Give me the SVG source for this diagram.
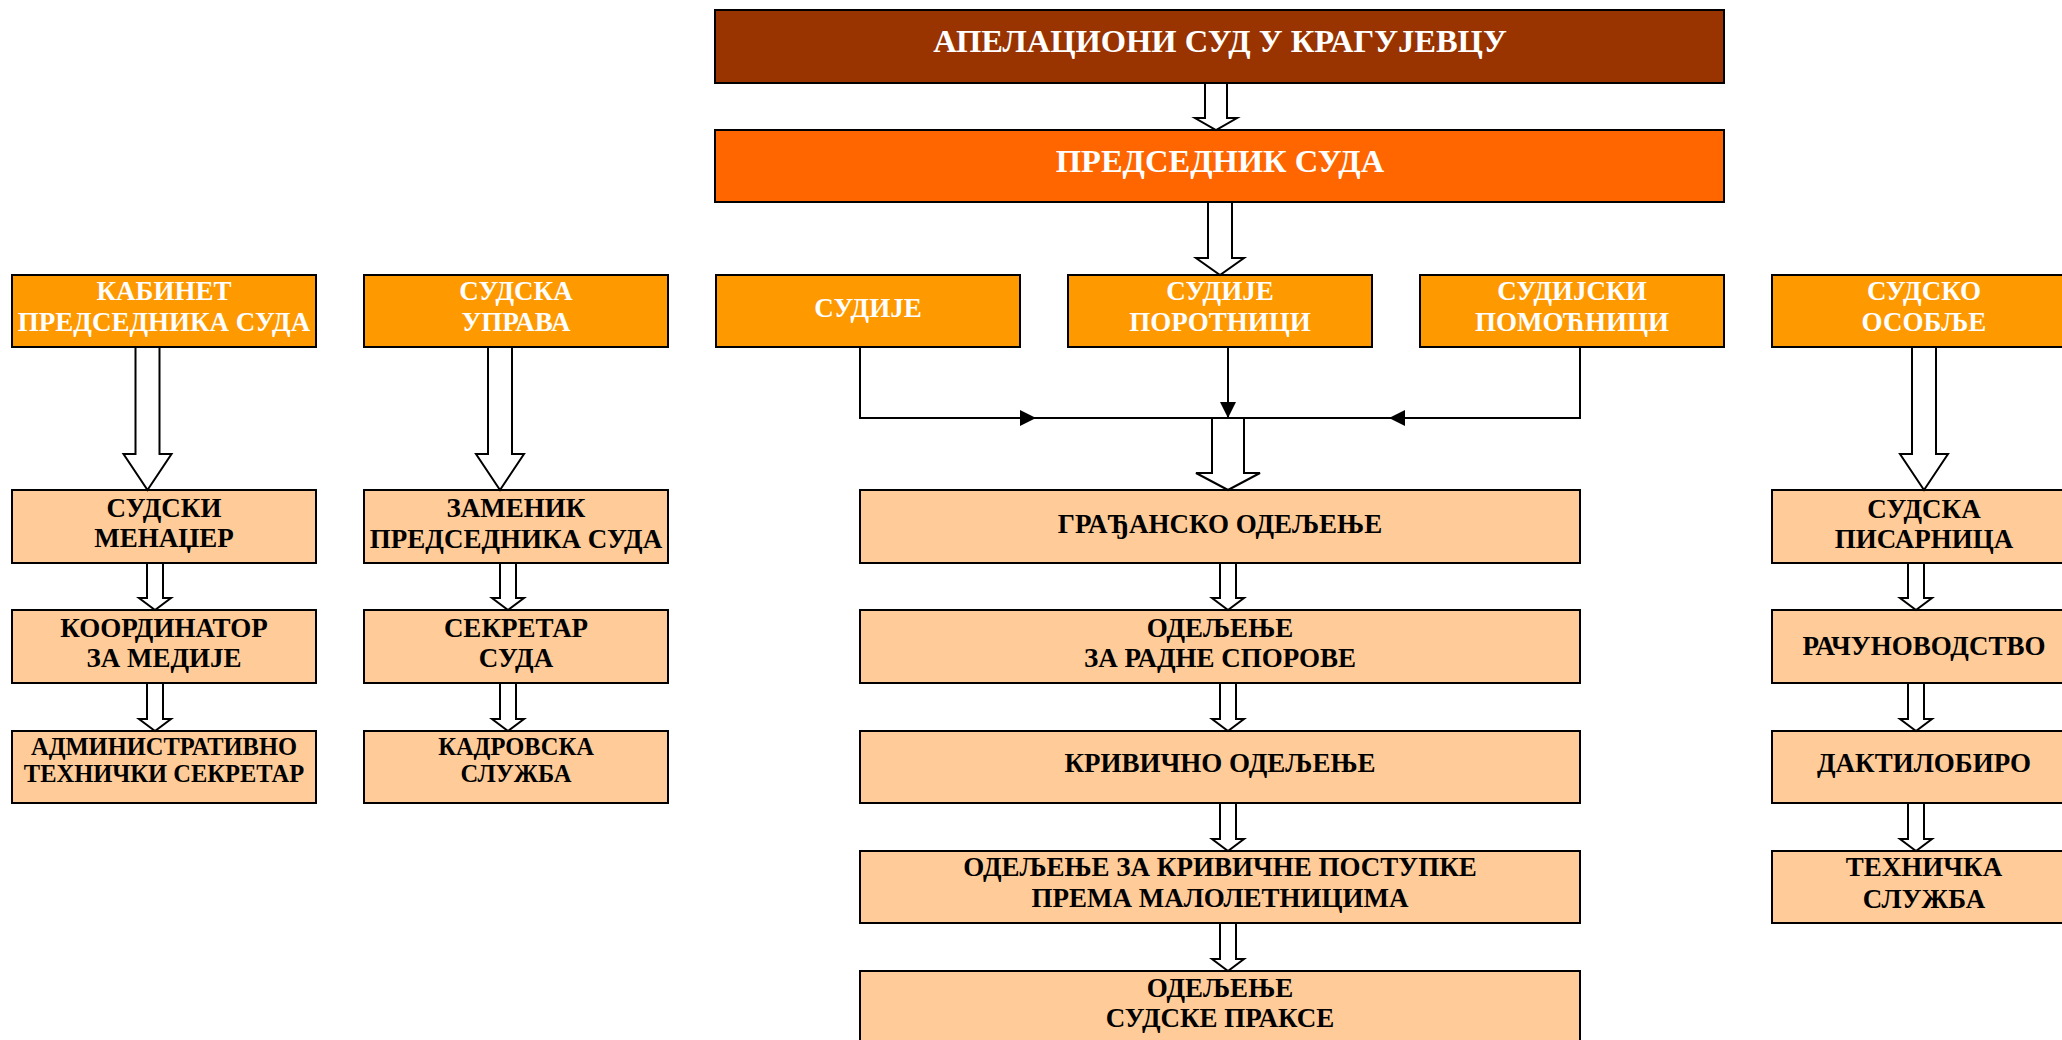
<svg xmlns="http://www.w3.org/2000/svg" width="2062" height="1040" viewBox="0 0 2062 1040">
<defs>
<style>
.box{stroke:#000;stroke-width:2}
.c0{fill:#993300}.c1{fill:#FF6600}.c2{fill:#FF9900}.c3{fill:#FFCC99}
text{font-family:"Liberation Serif","Times New Roman",serif;font-weight:bold;text-anchor:middle}
.w{fill:#fff;font-size:27px}.t{fill:#fff;font-size:32.5px}
.d{fill:#000;font-size:27px}.s{fill:#000;font-size:24.5px}
.blk{fill:#fff;stroke:#000;stroke-width:2;stroke-linejoin:miter}
.ln{fill:none;stroke:#000;stroke-width:2}
</style>
<marker id="tri" viewBox="0 0 10 10" refX="10" refY="5" markerWidth="16" markerHeight="16" markerUnits="userSpaceOnUse" orient="auto">
<path d="M0 0L10 5L0 10Z" fill="#000"/>
</marker>
</defs>
<rect width="2062" height="1040" fill="#fff"/>

<g id="apelacioni"><rect class="box c0" x="715" y="10" width="1009" height="73"/><text class="t" x="1220" y="52">АПЕЛАЦИОНИ СУД У КРАГУЈЕВЦУ</text></g>
<g id="predsednik"><rect class="box c1" x="715" y="130" width="1009" height="72"/><text class="t" x="1220" y="172">ПРЕДСЕДНИК СУДА</text></g>

<g id="kabinet"><rect class="box c2" x="12" y="275" width="304" height="72"/><text class="w" x="164" y="300">КАБИНЕТ</text><text class="w" x="164" y="331">ПРЕДСЕДНИКА СУДА</text></g>
<g id="uprava"><rect class="box c2" x="364" y="275" width="304" height="72"/><text class="w" x="516" y="300">СУДСКА</text><text class="w" x="516" y="331">УПРАВА</text></g>
<g id="sudije"><rect class="box c2" x="716" y="275" width="304" height="72"/><text class="w" x="868" y="317">СУДИЈЕ</text></g>
<g id="porotnici"><rect class="box c2" x="1068" y="275" width="304" height="72"/><text class="w" x="1220" y="300">СУДИЈЕ</text><text class="w" x="1220" y="331">ПОРОТНИЦИ</text></g>
<g id="pomocnici"><rect class="box c2" x="1420" y="275" width="304" height="72"/><text class="w" x="1572" y="300">СУДИЈСКИ</text><text class="w" x="1572" y="331">ПОМОЋНИЦИ</text></g>
<g id="osoblje"><rect class="box c2" x="1772" y="275" width="304" height="72"/><text class="w" x="1924" y="300">СУДСКО</text><text class="w" x="1924" y="331">ОСОБЉЕ</text></g>

<g id="menadzer"><rect class="box c3" x="12" y="490" width="304" height="73"/><text class="d" x="164" y="517">СУДСКИ</text><text class="d" x="164" y="547">МЕНАЏЕР</text></g>
<g id="koordinator"><rect class="box c3" x="12" y="610" width="304" height="73"/><text class="d" x="164" y="637">КООРДИНАТОР</text><text class="d" x="164" y="667">ЗА МЕДИЈЕ</text></g>
<g id="admin"><rect class="box c3" x="12" y="731" width="304" height="72"/><text class="s" x="164" y="755">АДМИНИСТРАТИВНО</text><text class="s" x="164" y="782">ТЕХНИЧКИ СЕКРЕТАР</text></g>

<g id="zamenik"><rect class="box c3" x="364" y="490" width="304" height="73"/><text class="d" x="516" y="517">ЗАМЕНИК</text><text class="d" x="516" y="548">ПРЕДСЕДНИКА СУДА</text></g>
<g id="sekretar"><rect class="box c3" x="364" y="610" width="304" height="73"/><text class="d" x="516" y="637">СЕКРЕТАР</text><text class="d" x="516" y="667">СУДА</text></g>
<g id="kadrovska"><rect class="box c3" x="364" y="731" width="304" height="72"/><text class="s" x="516" y="755">КАДРОВСКА</text><text class="s" x="516" y="782">СЛУЖБА</text></g>

<g id="gradjansko"><rect class="box c3" x="860" y="490" width="720" height="73"/><text class="d" x="1220" y="533">ГРАЂАНСКО ОДЕЉЕЊЕ</text></g>
<g id="radni"><rect class="box c3" x="860" y="610" width="720" height="73"/><text class="d" x="1220" y="637">ОДЕЉЕЊЕ</text><text class="d" x="1220" y="667">ЗА РАДНЕ СПОРОВЕ</text></g>
<g id="krivicno"><rect class="box c3" x="860" y="731" width="720" height="72"/><text class="d" x="1220" y="772">КРИВИЧНО ОДЕЉЕЊЕ</text></g>
<g id="maloletnici"><rect class="box c3" x="860" y="851" width="720" height="72"/><text class="d" x="1220" y="876">ОДЕЉЕЊЕ ЗА КРИВИЧНЕ ПОСТУПКЕ</text><text class="d" x="1220" y="907">ПРЕМА МАЛОЛЕТНИЦИМА</text></g>
<g id="praksa"><rect class="box c3" x="860" y="971" width="720" height="80"/><text class="d" x="1220" y="997">ОДЕЉЕЊЕ</text><text class="d" x="1220" y="1027">СУДСКЕ ПРАКСЕ</text></g>

<g id="pisarnica"><rect class="box c3" x="1772" y="490" width="304" height="73"/><text class="d" x="1924" y="518">СУДСКА</text><text class="d" x="1924" y="548">ПИСАРНИЦА</text></g>
<g id="racunovodstvo"><rect class="box c3" x="1772" y="610" width="304" height="73"/><text class="d" x="1924" y="655">РАЧУНОВОДСТВО</text></g>
<g id="daktilobiro"><rect class="box c3" x="1772" y="731" width="304" height="72"/><text class="d" x="1924" y="772">ДАКТИЛОБИРО</text></g>
<g id="tehnicka"><rect class="box c3" x="1772" y="851" width="304" height="72"/><text class="d" x="1924" y="876">ТЕХНИЧКА</text><text class="d" x="1924" y="908">СЛУЖБА</text></g>

<g id="connectors">
<path class="blk" d="M1205 83V118H1195L1216 130L1237 118H1227V83Z"/>
<path class="blk" d="M1208 202V258H1196L1220 275L1244 258H1232V202Z"/>
<path class="blk" d="M135.5 347V454H123.5L147.5 490L171.5 454H159.5V347Z"/>
<path class="blk" d="M488 347V454H476L500 490L524 454H512V347Z"/>
<path class="blk" d="M1912 347V454H1900L1924 490L1948 454H1936V347Z"/>
<path class="ln" d="M860 347V418H1036" marker-end="url(#tri)"/>
<path class="ln" d="M1580 347V418H1389" marker-end="url(#tri)"/>
<path class="ln" d="M1228 347V418" marker-end="url(#tri)"/>
<path class="ln" d="M1036 418H1389"/>
<path class="blk" d="M1212 418V473H1196L1228 490L1260 473H1244V418Z"/>
<path class="blk" d="M147 563V598H139L155 610L171 598H163V563Z"/>
<path class="blk" d="M147 683V719H139L155 731L171 719H163V683Z"/>
<path class="blk" d="M500 563V598H492L508 610L524 598H516V563Z"/>
<path class="blk" d="M500 683V719H492L508 731L524 719H516V683Z"/>
<path class="blk" d="M1220 563V598H1212L1228 610L1244 598H1236V563Z"/>
<path class="blk" d="M1220 683V719H1212L1228 731L1244 719H1236V683Z"/>
<path class="blk" d="M1220 803V839H1212L1228 851L1244 839H1236V803Z"/>
<path class="blk" d="M1220 923V959H1212L1228 971L1244 959H1236V923Z"/>
<path class="blk" d="M1908 563V598H1900L1916 610L1932 598H1924V563Z"/>
<path class="blk" d="M1908 683V719H1900L1916 731L1932 719H1924V683Z"/>
<path class="blk" d="M1908 803V839H1900L1916 851L1932 839H1924V803Z"/>
</g>
</svg>
